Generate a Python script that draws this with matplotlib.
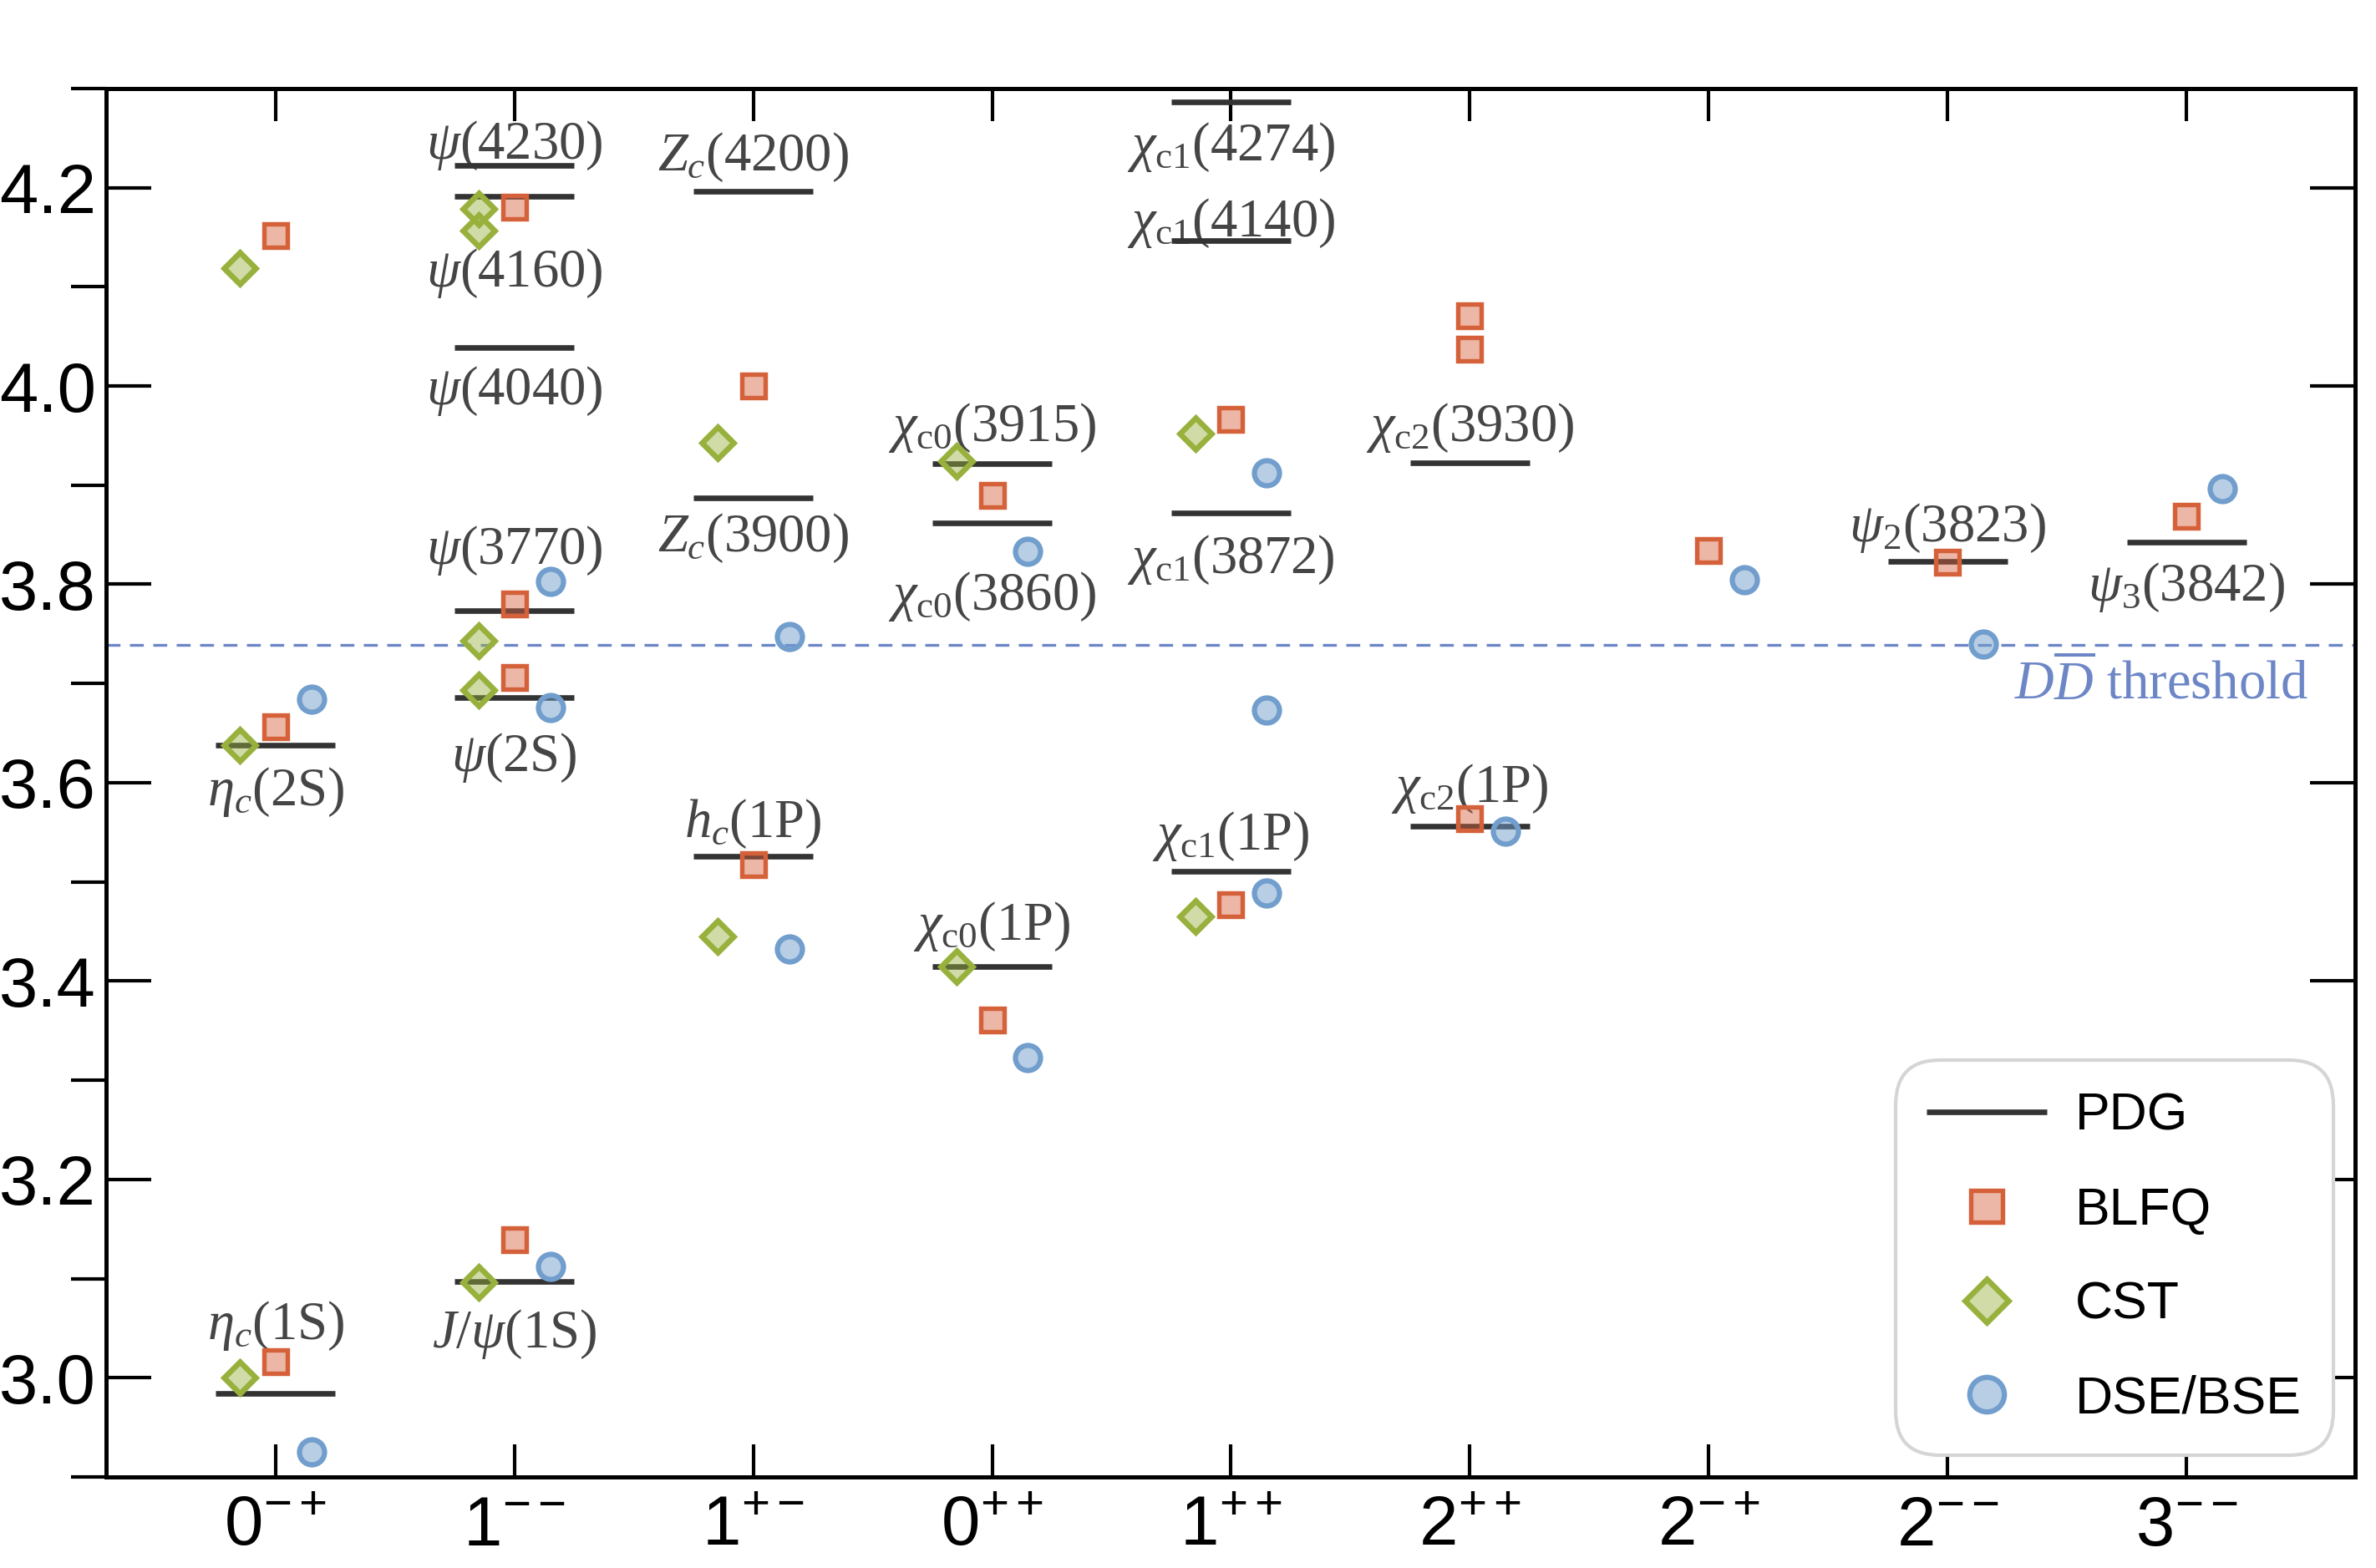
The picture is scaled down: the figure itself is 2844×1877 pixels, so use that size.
import matplotlib
matplotlib.use('Agg')
import matplotlib.pyplot as plt
from matplotlib.colors import to_rgba
from matplotlib.ticker import MultipleLocator, FormatStrFormatter

plt.rcParams['font.family'] = ['Liberation Sans', 'DejaVu Sans']
plt.rcParams['mathtext.fontset'] = 'custom'
plt.rcParams['mathtext.rm'] = 'Liberation Serif'
plt.rcParams['mathtext.it'] = 'Liberation Serif:italic'
plt.rcParams['mathtext.bf'] = 'Liberation Serif:bold'
plt.rcParams['mathtext.sf'] = 'Liberation Sans'

# J^PC channels on the x axis
categories = [r'$\mathsf{0^{-+}}$', r'$\mathsf{1^{--}}$', r'$\mathsf{1^{+-}}$',
              r'$\mathsf{0^{++}}$', r'$\mathsf{1^{++}}$', r'$\mathsf{2^{++}}$',
              r'$\mathsf{2^{-+}}$', r'$\mathsf{2^{--}}$', r'$\mathsf{3^{--}}$']

# PDG states: channel index, mass (GeV), name, vertical position of the name
pdg_cat = [0, 0, 1, 1, 1, 1, 1, 1, 2, 2, 2, 3, 3, 3, 4, 4, 4, 4, 5, 5, 7, 8]
pdg_mass = [2.9839, 3.6375, 3.0969, 3.6861, 3.7737, 4.039, 4.191, 4.222,
            3.5254, 3.8872, 4.196, 3.4147, 3.862, 3.9217,
            3.5107, 3.8717, 4.1466, 4.286, 3.5562, 3.9225, 3.8235, 3.8427]
pdg_name = [r'$\eta_c(\mathrm{1S})$', r'$\eta_c(\mathrm{2S})$',
            r'$J/\psi(\mathrm{1S})$', r'$\psi(\mathrm{2S})$', r'$\psi(3770)$',
            r'$\psi(4040)$', r'$\psi(4160)$', r'$\psi(4230)$',
            r'$h_c(\mathrm{1P})$', r'$Z_c(3900)$', r'$Z_c(4200)$',
            r'$\chi_{\mathrm{c0}}(\mathrm{1P})$', r'$\chi_{\mathrm{c0}}(3860)$',
            r'$\chi_{\mathrm{c0}}(3915)$',
            r'$\chi_{\mathrm{c1}}(\mathrm{1P})$', r'$\chi_{\mathrm{c1}}(3872)$',
            r'$\chi_{\mathrm{c1}}(4140)$', r'$\chi_{\mathrm{c1}}(4274)$',
            r'$\chi_{\mathrm{c2}}(\mathrm{1P})$', r'$\chi_{\mathrm{c2}}(3930)$',
            r'$\psi_2(3823)$', r'$\psi_3(3842)$']
name_y = [3.052, 3.591, 3.044, 3.625, 3.834, 3.995, 4.114, 4.243,
          3.559, 3.847, 4.231, 3.455, 3.788, 3.958,
          3.546, 3.825, 4.164, 4.241, 3.594, 3.958, 3.857, 3.797]

# BLFQ
blfq_cat = [0, 0, 0, 1, 1, 1, 1, 2, 2, 3, 3, 4, 4, 5, 5, 5, 6, 7, 8]
blfq_mass = [3.016, 3.656, 4.152, 3.139, 3.706, 3.780, 4.180, 3.517, 4.000,
             3.361, 3.890, 3.477, 3.966, 3.564, 4.037, 4.071, 3.834, 3.822, 3.869]

# CST
cst_cat = [0, 0, 0, 1, 1, 1, 1, 1, 2, 2, 3, 3, 4, 4]
cst_mass = [3.000, 3.638, 4.119, 3.096, 3.693, 3.743, 4.157, 4.179,
            3.445, 3.943, 3.415, 3.924, 3.465, 3.952]

# DSE/BSE
dse_cat = [0, 0, 1, 1, 1, 2, 2, 3, 3, 4, 4, 4, 5, 6, 7, 8]
dse_mass = [2.925, 3.684, 3.112, 3.676, 3.803, 3.432, 3.747, 3.323, 3.833,
            3.489, 3.673, 3.912, 3.551, 3.805, 3.740, 3.896]

dd_threshold = 3.739

c_blfq = '#D5613B'
c_cst = '#98B13D'
c_dse = '#729ECD'
c_thr = '#6C86C6'
c_text = '#454545'

fig = plt.figure(figsize=(9.48, 6.2567), dpi=300)
ax = fig.add_axes([0.0448, 0.0581, 0.9464, 0.8855])

ax.hlines(pdg_mass, [c - 0.25 for c in pdg_cat], [c + 0.25 for c in pdg_cat],
          colors='#333333', linewidth=1.6, zorder=2, label='PDG')

for c, name, y in zip(pdg_cat, pdg_name, name_y):
    ax.text(c, y, name, ha='center', va='center', fontsize=15.5, color=c_text, zorder=1)

ax.axhline(dd_threshold, color=c_thr, lw=0.8, ls=(0, (5, 3.4)), zorder=1)
ax.text(8.51, 3.699, r'$D\overline{D}$ threshold', ha='right', va='center',
        fontsize=15.5, color=c_thr, family='Liberation Serif')

ax.plot([c for c in blfq_cat], blfq_mass, ls='none', marker='s', ms=6.5, mew=1.3,
        mec=c_blfq, mfc=to_rgba(c_blfq, 0.45), zorder=3, label='BLFQ')
ax.plot([c - 0.15 for c in cst_cat], cst_mass, ls='none', marker='D', ms=6.4, mew=1.6,
        mec=c_cst, mfc=to_rgba(c_cst, 0.45), zorder=3, label='CST')
ax.plot([c + 0.15 for c in dse_cat], dse_mass, ls='none', marker='o', ms=7.2, mew=1.5,
        mec=c_dse, mfc=to_rgba(c_dse, 0.5), zorder=3, label='DSE/BSE')

ax.set_xlim(-0.708, 8.706)
ax.set_ylim(2.9, 4.3)
ax.set_xticks(range(len(categories)))
ax.set_xticklabels(categories)
ax.yaxis.set_major_locator(MultipleLocator(0.2))
ax.yaxis.set_minor_locator(MultipleLocator(0.1))
ax.yaxis.set_major_formatter(FormatStrFormatter('%.1f'))

ax.tick_params(axis='both', direction='in', top=True, right=True, labelsize=20)
ax.tick_params(axis='y', which='major', length=13, width=1.0, pad=3)
ax.tick_params(axis='y', which='minor', length=10, width=1.0)
ax.tick_params(axis='x', which='major', length=9.3, width=1.0, pad=5)
for sp in ax.spines.values():
    sp.set_linewidth(1.2)

leg = ax.legend(loc='lower right', fontsize=15, frameon=True, fancybox=True,
                framealpha=1, edgecolor='#d5d5d5', borderpad=0.6, labelspacing=0.86,
                handlelength=2.3, handletextpad=0.55, borderaxespad=0.42, markerscale=1.38)
leg.get_frame().set_linewidth(1.0)
leg.get_frame().set_boxstyle('round', pad=0, rounding_size=0.85)

fig.savefig('out.png', dpi=300)
